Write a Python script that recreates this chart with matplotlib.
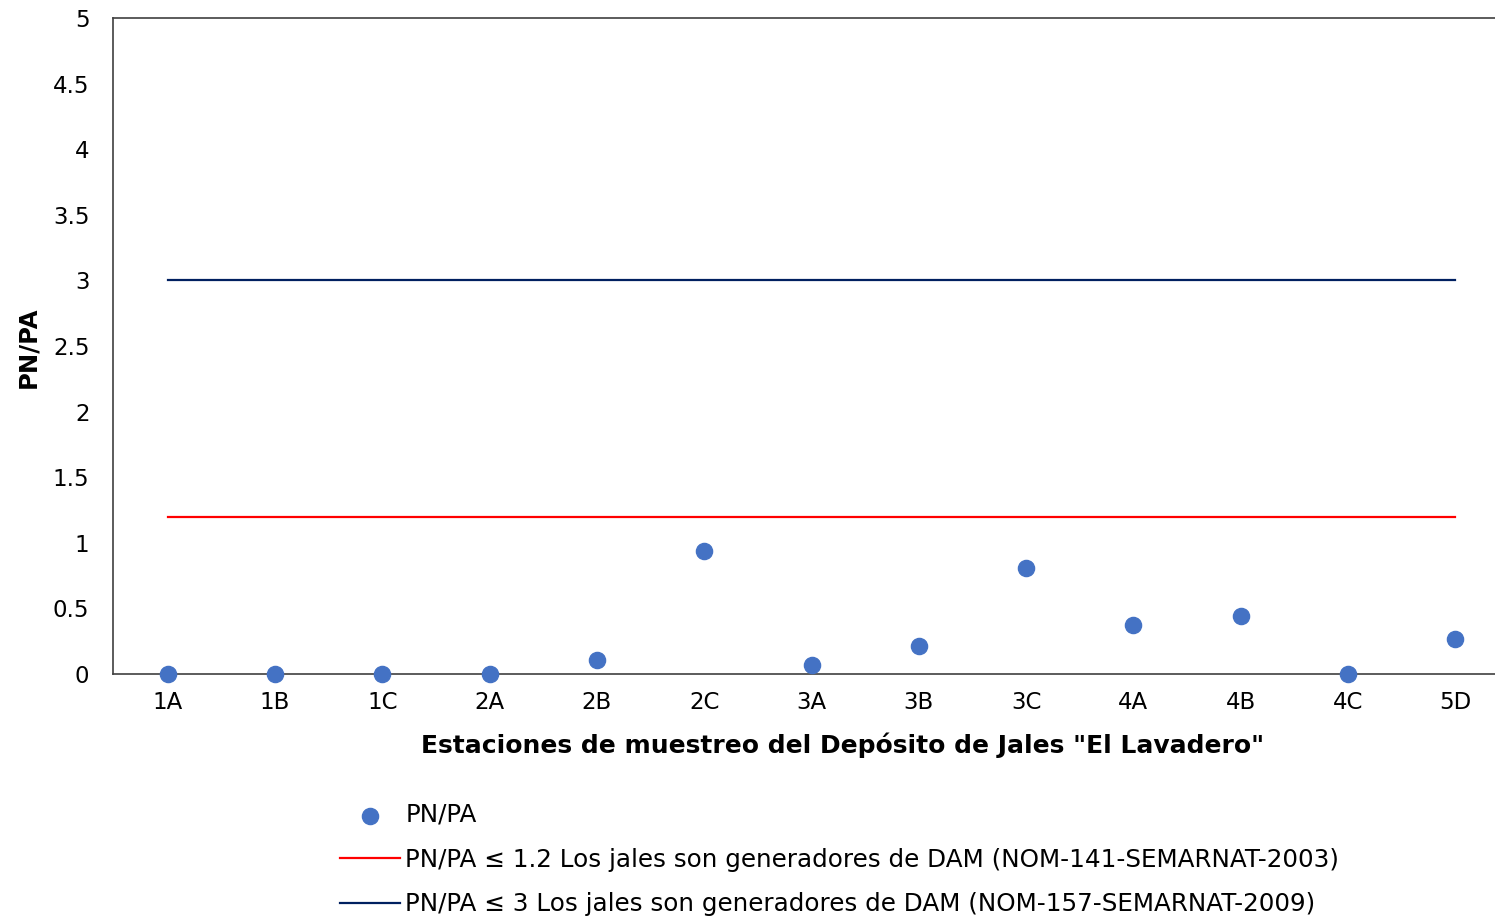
import matplotlib
matplotlib.use("Agg")
import matplotlib.pyplot as plt

plt.rcParams['font.family'] = ['DejaVu Sans']

stations = ["1A", "1B", "1C", "2A", "2B", "2C", "3A", "3B", "3C", "4A", "4B", "4C", "5D"]
pn_pa = [0, 0, 0, 0, 0.11, 0.94, 0.07, 0.21, 0.81, 0.37, 0.44, 0, 0.27]
limit_141 = 1.2
limit_157 = 3
yticks = [0, 0.5, 1, 1.5, 2, 2.5, 3, 3.5, 4, 4.5, 5]
ytick_labels = ["0", "0.5", "1", "1.5", "2", "2.5", "3", "3.5", "4", "4.5", "5"]

fig = plt.figure(figsize=(14.95, 9.19), dpi=100)
ax = fig.add_axes([113/1495, 1-674/919, (1510-113)/1495, (674-18)/919])

x = list(range(len(stations)))
ax.scatter(x, pn_pa, s=135, color="#4472C4", zorder=3, label="PN/PA", clip_on=False)
ax.plot(x, [limit_141]*len(x), color="#FF0000", lw=1.6,
        label="PN/PA ≤ 1.2 Los jales son generadores de DAM (NOM-141-SEMARNAT-2003)")
ax.plot(x, [limit_157]*len(x), color="#002060", lw=1.6,
        label="PN/PA ≤ 3 Los jales son generadores de DAM (NOM-157-SEMARNAT-2009)")

ax.set_xlim(-0.51, 12.51)
ax.set_ylim(0, 5)
ax.set_yticks(yticks)
ax.set_yticklabels(ytick_labels)
ax.set_xticks(x)
ax.set_xticklabels(stations)
ax.tick_params(axis='both', length=0, labelsize=16.5, colors="#000000")
ax.tick_params(axis='x', pad=12)
ax.tick_params(axis='y', pad=17)
for s in ["left", "top", "bottom"]:
    ax.spines[s].set_color("#404040")
    ax.spines[s].set_linewidth(1.2)
ax.spines["right"].set_visible(False)

ax.set_ylabel("PN/PA", fontsize=17.5, fontweight="bold")
ax.yaxis.set_label_coords(-(113-28)/(1510-113), (674-347)/(674-18))
ax.set_xlabel('Estaciones de muestreo del Depósito de Jales "El Lavadero"',
              fontsize=18, fontweight="bold")
ax.xaxis.set_label_coords((843-113)/(1510-113), -(745-674)/(674-18))
ax.xaxis.label.set_va("center")
ax.yaxis.label.set_va("center")

fig.legend(loc="upper left", bbox_to_anchor=(340/1495, 1-803/919), frameon=False,
           fontsize=17.7, handlelength=2.45, handletextpad=0.2, labelspacing=0.84,
           borderaxespad=0, borderpad=0)

fig.savefig("out.png", dpi=100)
